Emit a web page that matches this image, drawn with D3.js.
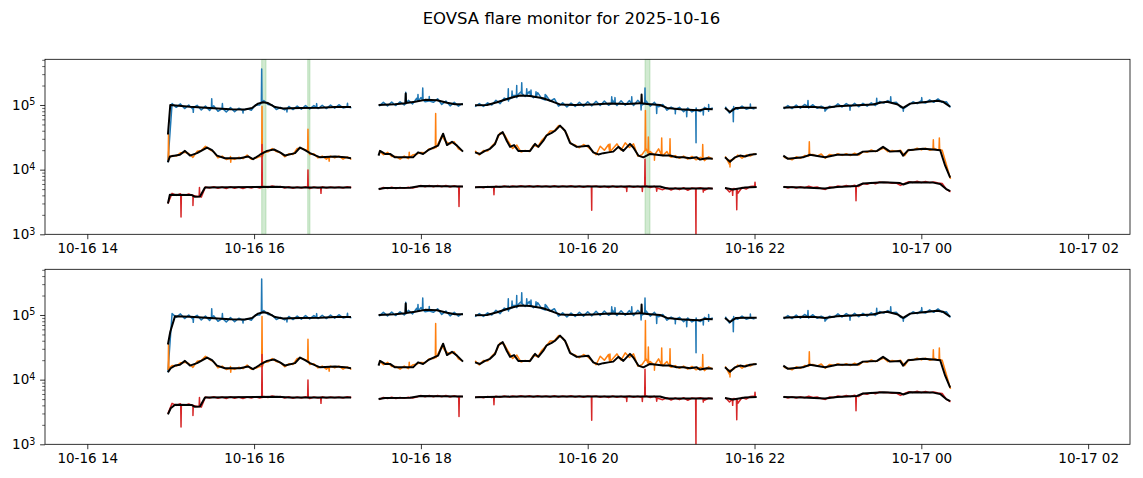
<!DOCTYPE html>
<html><head><meta charset="utf-8">
<script src="https://cdn.jsdelivr.net/npm/d3@7"></script>
<style>
body{margin:0;background:#fff;}
text{font-family:"DejaVu Sans",sans-serif;fill:#000;}
</style>
</head><body>
<svg id="c" width="1143" height="478"></svg>
<script>
// ---------------- data ----------------
const chartTitle = "EOVSA flare monitor for 2025-10-16";
const dayStartUTC = Date.UTC(2025, 9, 16);          // hours below are counted from 2025-10-16 00:00
const xDomainHours = [13.493, 26.502];
const xTickHours = [14, 16, 18, 20, 22, 24, 26];
const yDomain = [1e3, 5.09e5];
const yMajorTicks = [1e3, 1e4, 1e5];
const yMinorTicks = [2e3,3e3,4e3,5e3,6e3,7e3,8e3,9e3,2e4,3e4,4e4,5e4,6e4,7e4,8e4,9e4,2e5,3e5,4e5,5e5];

// start hour of each observing segment; samples every 3 minutes
const segmentStarts = [14.9667, 17.5, 18.65, 21.65, 22.35];
const sampleStepMin = 3;

const blueRaw = [
 [1.3e4,1.05e5,9.2e4,1.04e5,8.8e4,1.0e5,8.6e4,9.9e4,8.4e4,9.6e4,8.2e4,9.7e4,8.0e4,9.3e4,7.8e4,9.1e4,7.9e4,8.9e4,7.6e4,8.8e4,8.3e4,1.0e5,1.0e5,1.17e5,1.02e5,1.0e5,8.5e4,9.2e4,8.4e4,9.5e4,8.5e4,9.6e4,8.6e4,9.8e4,8.7e4,9.8e4,8.8e4,9.9e4,8.8e4,1.0e5,8.9e4,1.01e5,9.0e4,1.0e5,9.1e4],
 [9.6e4,1.1e5,9.7e4,1.11e5,9.8e4,1.12e5,1.0e5,1.18e5,1.04e5,1.27e5,1.3e5,1.12e5,1.32e5,1.1e5,1.25e5,1.02e5,1.15e5,9.7e4,1.1e5,9.6e4,1.06e5],
 [9.4e4,1.05e5,9.5e4,1.08e5,1.0e5,1.18e5,1.05e5,1.28e5,1.15e5,1.42e5,1.3e5,1.6e5,1.35e5,1.62e5,1.3e5,1.55e5,1.25e5,1.42e5,1.15e5,1.25e5,9.6e4,1.08e5,9.3e4,1.07e5,9.5e4,1.1e5,9.6e4,1.12e5,9.7e4,1.14e5,9.8e4,1.15e5,9.9e4,1.18e5,9.8e4,1.16e5,9.9e4,1.17e5,9.8e4,1.18e5,1.0e5,1.15e5,9.6e4,1.1e5,9.4e4,1.02e5,8.3e4,9.3e4,8.0e4,9.2e4,7.9e4,9.0e4,7.8e4,9.0e4,7.9e4,9.2e4,8.0e4,9.0e4],
 [9.4e4,7.5e4,9.5e4,8.6e4,9.6e4,8.6e4,9.5e4,8.7e4],
 [8.7e4,9.8e4,8.8e4,1.0e5,8.9e4,1.02e5,9.0e4,1.01e5,8.9e4,9.6e4,8.2e4,9.6e4,9.2e4,1.04e5,9.3e4,1.05e5,9.4e4,1.06e5,9.4e4,1.06e5,9.6e4,1.08e5,9.8e4,1.13e5,1.07e5,1.17e5,1.08e5,1.1e5,9.2e4,9.0e4,1.0e5,1.12e5,1.05e5,1.17e5,1.07e5,1.2e5,1.1e5,1.24e5,1.1e5,1.12e5,9.2e4]
];
const orangeRaw = [
 [1.4e4,1.65e4,1.62e4,1.82e4,1.85e4,1.78e4,1.55e4,1.92e4,1.98e4,2.3e4,2.05e4,1.88e4,1.52e4,1.62e4,1.44e4,1.6e4,1.44e4,1.55e4,1.48e4,1.68e4,1.45e4,1.5e4,1.6e4,1.88e4,1.88e4,2.12e4,1.9e4,1.82e4,1.58e4,1.76e4,1.72e4,2.12e4,2.15e4,2.02e4,1.72e4,1.76e4,1.52e4,1.62e4,1.45e4,1.62e4,1.52e4,1.62e4,1.45e4,1.58e4,1.44e4],
 [1.95e4,1.7e4,1.85e4,1.6e4,1.6e4,1.45e4,1.62e4,1.48e4,1.68e4,1.75e4,1.85e4,1.82e4,2.1e4,2.12e4,2.42e4,3.3e4,2.7e4,2.5e4,2.7e4,2.1e4,1.95e4],
 [1.95e4,1.68e4,1.98e4,1.95e4,2.3e4,2.7e4,3.7e4,3.5e4,2.7e4,2.12e4,2.4e4,1.88e4,1.98e4,1.9e4,2.4e4,2.25e4,2.85e4,3.3e4,3.95e4,3.95e4,4.8e4,4.4e4,3.55e4,2.5e4,2.4e4,2.18e4,2.45e4,2.25e4,1.98e4,1.7e4,2.3e4,2.0e4,2.45e4,2.1e4,2.5e4,2.0e4,2.6e4,2.2e4,2.5e4,1.62e4,1.7e4,2.1e4,1.9e4,1.65e4,2.1e4,1.65e4,1.9e4,1.55e4,1.65e4,1.5e4,1.62e4,1.45e4,1.6e4,1.42e4,1.55e4,1.38e4,1.58e4,1.45e4],
 [1.6e4,1.2e4,1.45e4,1.68e4,1.5e4,1.68e4,1.62e4,1.78e4],
 [1.55e4,1.5e4,1.42e4,1.58e4,1.5e4,1.65e4,1.62e4,1.72e4,1.62e4,1.75e4,1.5e4,1.72e4,1.65e4,1.76e4,1.66e4,1.76e4,1.65e4,1.8e4,1.68e4,1.9e4,1.85e4,2.02e4,1.9e4,2.02e4,2.15e4,1.9e4,1.98e4,1.92e4,2.0e4,1.65e4,2.05e4,2.0e4,2.15e4,2.02e4,2.15e4,2.0e4,2.15e4,2.0e4,2.0e4,1.2e4,7.2e3]
];
const redRaw = [
 [3.0e3,4.3e3,4.0e3,4.25e3,4.0e3,4.2e3,3.95e3,3.85e3,3.75e3,5.4e3,5.2e3,5.45e3,5.15e3,5.4e3,5.1e3,5.45e3,5.15e3,5.4e3,5.1e3,5.4e3,5.2e3,5.45e3,5.2e3,5.5e3,5.3e3,5.6e3,5.4e3,5.5e3,5.2e3,5.45e3,5.15e3,5.4e3,5.2e3,5.45e3,5.1e3,5.4e3,5.2e3,5.45e3,5.2e3,5.4e3,5.25e3,5.4e3,5.2e3,5.45e3,5.3e3],
 [4.9e3,5.3e3,5.1e3,5.35e3,5.1e3,5.3e3,5.15e3,5.35e3,5.2e3,5.4e3,5.7e3,5.45e3,5.7e3,5.45e3,5.7e3,5.45e3,5.7e3,5.4e3,5.65e3,5.4e3,5.5e3],
 [5.3e3,5.45e3,5.25e3,5.5e3,5.3e3,5.55e3,5.35e3,5.6e3,5.4e3,5.6e3,5.45e3,5.65e3,5.45e3,5.65e3,5.4e3,5.65e3,5.45e3,5.6e3,5.4e3,5.65e3,5.4e3,5.6e3,5.45e3,5.65e3,5.4e3,5.6e3,5.35e3,5.6e3,5.4e3,5.6e3,5.35e3,5.55e3,5.3e3,5.6e3,5.35e3,5.55e3,5.3e3,5.6e3,5.35e3,5.55e3,5.3e3,5.6e3,5.3e3,5.55e3,5.1e3,4.9e3,5.25e3,4.85e3,5.2e3,4.9e3,5.25e3,4.8e3,5.2e3,4.85e3,5.25e3,4.8e3,5.2e3,5.05e3],
 [5.3e3,4.5e3,5.1e3,4.3e3,5.3e3,5.0e3,5.5e3,5.6e3],
 [5.5e3,5.2e3,5.45e3,5.2e3,5.45e3,5.25e3,5.55e3,5.3e3,5.4e3,5.1e3,4.95e3,5.4e3,5.3e3,5.6e3,5.45e3,5.7e3,5.5e3,5.75e3,5.5e3,6.1e3,5.95e3,6.3e3,6.05e3,6.45e3,6.3e3,6.35e3,6.15e3,6.2e3,5.7e3,6.1e3,6.5e3,6.35e3,6.6e3,6.3e3,6.55e3,6.3e3,6.45e3,6.2e3,6.1e3,5.0e3,4.55e3]
];

// short spikes: [hour, level around it, spike value]
const blueSpikes = [[15.271,9.2e4,7.7e4],[15.492,9.0e4,1.25e5],[15.62,8.8e4,1.05e5],[15.867,8.3e4,7.5e4],[16.091,1.08e5,3.6e5],[16.394,8.8e4,7.8e4],[16.75,9.2e4,1.05e5],[17.12,9.3e4,1.06e5],
 [17.818,1.05e5,1.57e5],[17.965,1.15e5,1.45e5],[18.022,1.2e5,1.83e5],[18.1,1.15e5,1.35e5],
 [19.048,1.2e5,1.78e5],[19.093,1.3e5,1.65e5],[19.149,1.4e5,2.0e5],[19.209,1.5e5,2.2e5],[19.269,1.45e5,1.78e5],[19.32,1.4e5,1.7e5],[19.38,1.35e5,1.6e5],[19.49,1.2e5,1.45e5],
 [20.288,1.05e5,1.34e5],[20.327,1.05e5,1.3e5],[20.528,1.05e5,1.34e5],[20.640,1.06e5,8.4e4],[20.687,1.05e5,1.83e5],[20.827,1.0e5,7.4e4],[21.05,8.6e4,7.3e4],[21.187,8.6e4,6.6e4],[21.299,8.4e4,2.6e4],[21.386,8.6e4,7.0e4],[21.45,8.6e4,1.02e5],
 [21.746,8.8e4,5.5e4],[21.95,9.0e4,1.04e5],
 [22.641,9.5e4,1.17e5],[22.845,9.0e4,8.0e4],[23.145,9.8e4,8.3e4],[23.465,1.03e5,1.27e5],[23.633,1.1e5,1.34e5],[23.784,9.0e4,8.0e4],[24.005,1.1e5,1.3e5]];
const orangeSpikes = [[14.974,1.5e4,3.6e4],[15.72,1.5e4,1.3e4],[16.095,1.6e4,9.5e4],[16.646,2.0e4,4.2e4],[16.9,1.55e4,1.35e4],
 [18.177,2.2e4,7.4e4],[17.86,1.55e4,1.85e4],
 [20.267,1.9e4,2.5e4],[20.692,2.0e4,8.2e4],[20.727,1.8e4,3.2e4],[20.887,1.7e4,3.1e4],[20.987,1.6e4,3.0e4],[20.8,1.7e4,1.4e4],[21.379,1.5e4,2.45e4],
 [21.706,1.4e4,1.1e4],
 [22.657,1.7e4,2.7e4],[24.144,2.05e4,2.9e4],[24.216,2.05e4,3.1e4]];
const redSpikes = [[15.124,4.1e3,1.85e3],[15.267,4.0e3,2.8e3],[15.345,3.85e3,5.3e3],[16.095,5.3e3,2.45e4],[16.646,5.3e3,9.9e3],[16.802,5.3e3,4.3e3],
 [18.457,5.5e3,2.7e3],
 [18.876,5.4e3,4.1e3],[20.048,5.5e3,2.35e3],[20.468,5.5e3,4.6e3],[20.655,5.5e3,4.6e3],[20.687,5.5e3,1.45e4],[20.827,5.2e3,4.65e3],[21.298,5.1e3,9e2],[21.386,5.1e3,4.5e3],
 [21.738,5.0e3,4.0e3],[21.787,5.0e3,2.4e3],[22.006,5.5e3,6.4e3],
 [23.217,5.6e3,3.3e3]];

// smoothed (black) curves: [hour, value], null = gap
const blueSmooth = [[14.967,3.5e4],[14.995,1.0e5],[15.231,9.4e4],[15.471,9.0e4],[15.711,8.6e4],[15.891,8.5e4],[15.975,9.0e4],[16.047,1.05e5],[16.107,1.1e5],[16.167,1.07e5],[16.251,9.3e4],[16.347,8.8e4],[16.431,8.9e4],[16.551,9.0e4],[16.791,9.1e4],[16.971,9.3e4],[17.162,9.3e4],null,
 [17.492,1.0e5],[17.69,1.03e5],[17.814,1.06e5],[17.818,1.5e5],[17.822,1.07e5],[17.93,1.12e5],[18.05,1.2e5],[18.193,1.18e5],[18.313,1.08e5],[18.409,1.03e5],[18.505,1.03e5],null,
 [18.649,9.9e4],[18.793,1.0e5],[18.913,1.1e5],[19.069,1.28e5],[19.189,1.4e5],[19.309,1.38e5],[19.465,1.27e5],[19.585,1.12e5],[19.666,1.02e5],[19.847,1.0e5],[20.063,1.02e5],[20.267,1.05e5],[20.471,1.04e5],[20.627,1.06e5],[20.642,1.06e5],[20.646,1.45e5],[20.650,1.06e5],[20.711,1.04e5],[20.867,1.0e5],[20.951,9.0e4],[21.107,8.6e4],[21.263,8.4e4],[21.347,8.3e4],[21.407,8.7e4],[21.499,8.6e4],null,
 [21.646,9.0e4],[21.706,7.8e4],[21.778,9.0e4],[21.886,9.1e4],[22.026,9.1e4],null,
 [22.345,9.1e4],[22.581,9.4e4],[22.725,9.3e4],[22.845,9.0e4],[22.989,9.6e4],[23.229,9.9e4],[23.421,1.02e5],[23.505,1.08e5],[23.589,1.12e5],[23.709,1.03e5],[23.782,9.0e4],[23.866,1.05e5],[24.022,1.1e5],[24.190,1.16e5],[24.262,1.12e5],[24.346,9.4e4]];
const orangeSmooth = [[14.967,1.3e4],[14.99,1.6e4],[15.111,1.7e4],[15.171,1.95e4],[15.231,1.65e4],[15.316,1.8e4],[15.436,2.2e4],[15.496,2.0e4],[15.555,1.65e4],[15.651,1.5e4],[15.831,1.5e4],[15.927,1.6e4],[15.987,1.45e4],[16.071,1.7e4],[16.155,1.95e4],[16.239,2.05e4],[16.311,1.85e4],[16.371,1.65e4],[16.491,1.8e4],[16.551,2.2e4],[16.611,2.0e4],[16.671,1.8e4],[16.791,1.55e4],[16.971,1.6e4],[17.091,1.55e4],[17.162,1.5e4],null,
 [17.492,1.65e4],[17.51,1.95e4],[17.57,1.75e4],[17.63,1.75e4],[17.69,1.55e4],[17.906,1.55e4],[17.966,1.85e4],[18.026,1.75e4],[18.086,2.0e4],[18.17,2.25e4],[18.206,2.35e4],[18.266,3.6e4],[18.313,2.4e4],[18.373,2.7e4],[18.433,2.35e4],[18.505,1.9e4],null,
 [18.649,1.85e4],[18.709,1.75e4],[18.769,1.95e4],[18.829,2.1e4],[18.889,2.5e4],[18.928,3.4e4],[18.981,3.8e4],[19.029,2.8e4],[19.069,2.25e4],[19.117,2.4e4],[19.168,1.95e4],[19.309,1.95e4],[19.369,2.5e4],[19.408,2.25e4],[19.468,2.8e4],[19.508,3.4e4],[19.568,3.7e4],[19.608,4.0e4],[19.668,4.8e4],[19.728,4.0e4],[19.788,2.6e4],[19.868,2.25e4],[19.947,2.3e4],[20.007,2.35e4],[20.067,1.85e4],[20.127,1.72e4],[20.187,1.8e4],[20.247,1.85e4],[20.307,1.9e4],[20.367,2.25e4],[20.427,1.95e4],[20.507,2.5e4],[20.547,2.2e4],[20.607,1.65e4],[20.667,1.55e4],[20.747,1.75e4],[20.827,1.7e4],[20.906,1.65e4],[20.987,1.65e4],[21.067,1.55e4],[21.147,1.55e4],[21.227,1.5e4],[21.307,1.55e4],[21.347,1.43e4],[21.427,1.5e4],[21.499,1.48e4],null,
 [21.646,1.55e4],[21.706,1.33e4],[21.766,1.55e4],[21.826,1.65e4],[21.886,1.6e4],[21.946,1.7e4],[22.026,1.75e4],null,
 [22.345,1.65e4],[22.401,1.47e4],[22.581,1.55e4],[22.665,1.7e4],[22.845,1.55e4],[22.989,1.7e4],[23.229,1.7e4],[23.301,1.9e4],[23.469,1.95e4],[23.541,2.25e4],[23.625,1.9e4],[23.745,1.95e4],[23.782,1.65e4],[23.842,2.0e4],[24.022,2.1e4],[24.142,2.05e4],[24.226,2.0e4],[24.286,1.15e4],[24.346,7.5e3]];
const redSmooth = [[14.967,3.0e3],[14.99,4.1e3],[15.255,4.05e3],[15.291,3.8e3],[15.351,3.85e3],[15.411,5.3e3],[16.275,5.45e3],[16.431,5.3e3],[17.162,5.3e3],null,
 [17.492,5.0e3],[17.57,5.2e3],[17.87,5.25e3],[17.99,5.6e3],[18.505,5.5e3],null,
 [18.649,5.35e3],[19.189,5.5e3],[20.149,5.5e3],[20.687,5.5e3],[20.867,5.5e3],[20.951,5.1e3],[21.499,5.1e3],null,
 [21.646,5.2e3],[21.742,4.95e3],[21.886,5.3e3],[22.026,5.4e3],null,
 [22.345,5.4e3],[22.581,5.3e3],[22.845,5.1e3],[22.989,5.4e3],[23.229,5.6e3],[23.301,6.1e3],[23.541,6.4e3],[23.745,6.2e3],[23.782,5.9e3],[23.866,6.4e3],[24.142,6.3e3],[24.226,6.0e3],[24.298,5.0e3],[24.346,4.65e3]];

// the lower panel's smoothed curves rise more gently at the first segment start
const blueSmoothLowerStart = [[14.967,3.5e4],[14.995,5.5e4],[15.052,9.6e4]];
const orangeSmoothLowerStart = [[14.967,1.3e4],[15.0,1.5e4],[15.052,1.65e4]];
const redSmoothLowerStart = [[14.967,2.9e3],[15.0,3.6e3],[15.052,4.1e3]];

// flare intervals marked on the upper panel: [start hour, end hour]
const flareSpans = [[16.091,16.143],[16.643,16.670],[20.687,20.747]];

const colors = {blue:"#1f77b4", orange:"#ff7f0e", red:"#d62728"};

// ---------------- drawing ----------------
const svg = d3.select("#c");
const W = 1143;
const plotLeft = 45, plotRight = 1130, plotH = 175;
const panelTops = [59.3, 269.3];
const toDate = h => new Date(dayStartUTC + h * 3600e3);

const x = d3.scaleUtc().domain(xDomainHours.map(toDate)).range([plotLeft, plotRight]);

function rawPoints(segs, spikes) {
  const out = [];
  segs.forEach((vals, i) => {
    const t0 = segmentStarts[i];
    const pts = vals.map((v, k) => [t0 + k * sampleStepMin / 60, v]);
    const t1 = pts[pts.length - 1][0];
    spikes.filter(s => s[0] >= t0 - 0.01 && s[0] <= t1 + 0.01).forEach(s => {
      pts.push([s[0] - 0.004, s[1]], [s[0], s[2]], [s[0] + 0.004, s[1]]);
    });
    pts.sort((a, b) => a[0] - b[0]);
    if (out.length) out.push(null);
    out.push(...pts);
  });
  return out;
}
function lowerSmooth(top, start) {
  const tEnd = start[start.length - 1][0];
  return start.concat(top.filter(p => p === null || p[0] > tEnd));
}

const rawSeries = [
  {pts: rawPoints(blueRaw, blueSpikes), color: colors.blue},
  {pts: rawPoints(orangeRaw, orangeSpikes), color: colors.orange},
  {pts: rawPoints(redRaw, redSpikes), color: colors.red}
];

svg.append("text").attr("x", W / 2).attr("y", 24).attr("text-anchor", "middle")
  .style("font-size", "16.5px").text(chartTitle);

panelTops.forEach((top, pi) => {
  const bottom = top + plotH;
  const y = d3.scaleLog().domain(yDomain).range([bottom, top]);
  const g = svg.append("g");
  const clipId = "clip" + pi;
  g.append("clipPath").attr("id", clipId).append("rect")
    .attr("x", plotLeft).attr("y", top).attr("width", plotRight - plotLeft).attr("height", plotH);
  const plot = g.append("g").attr("clip-path", `url(#${clipId})`);

  if (pi === 0) {
    plot.selectAll("rect.span").data(flareSpans).join("rect").attr("class", "span")
      .attr("x", d => x(toDate(d[0]))).attr("width", d => x(toDate(d[1])) - x(toDate(d[0])))
      .attr("y", top).attr("height", plotH)
      .attr("fill", "#2ca02c").attr("fill-opacity", 0.22)
      .attr("stroke", "#2ca02c").attr("stroke-opacity", 0.22).attr("stroke-width", 1);
  }

  const line = d3.line().defined(d => d !== null)
    .x(d => x(toDate(d[0]))).y(d => y(d[1]));

  rawSeries.forEach(s => {
    plot.append("path").attr("d", line(s.pts)).attr("fill", "none")
      .attr("stroke", s.color).attr("stroke-width", 1.5).attr("stroke-linejoin", "round");
  });
  const smooths = pi === 0 ? [blueSmooth, orangeSmooth, redSmooth] :
    [lowerSmooth(blueSmooth, blueSmoothLowerStart), lowerSmooth(orangeSmooth, orangeSmoothLowerStart), lowerSmooth(redSmooth, redSmoothLowerStart)];
  smooths.forEach(sm => {
    plot.append("path").attr("d", line(sm)).attr("fill", "none")
      .attr("stroke", "#000").attr("stroke-width", 2).attr("stroke-linejoin", "round");
  });

  // x axis
  const xa = g.append("g").attr("transform", `translate(0,${bottom})`)
    .call(d3.axisBottom(x).tickValues(xTickHours.map(toDate)).tickFormat(d3.utcFormat("%m-%d %H"))
      .tickSize(4.9).tickPadding(4.4));
  xa.select(".domain").remove();
  xa.selectAll("line").attr("stroke-width", 0.8);
  xa.selectAll("text").style("font-size", "13.5px");

  // y axis (major)
  const ya = g.append("g").attr("transform", `translate(${plotLeft},0)`)
    .call(d3.axisLeft(y).tickValues(yMajorTicks).tickFormat(() => "").tickSize(4.9).tickPadding(4.4));
  ya.select(".domain").remove();
  ya.selectAll("line").attr("stroke-width", 0.8);
  ya.selectAll(".tick").each(function(d) {
    const t = d3.select(this).select("text");
    t.text(null).attr("x", -9.6).attr("dy", "0.32em").attr("text-anchor", "end").style("font-size", "13.5px");
    t.append("tspan").text("10");
    t.append("tspan").attr("dy", "-0.45em").style("font-size", "9.6px").text(String(Math.round(Math.log10(d))));
  });
  // y axis (minor)
  const ym = g.append("g").attr("transform", `translate(${plotLeft},0)`)
    .call(d3.axisLeft(y).tickValues(yMinorTicks.filter(v => v <= yDomain[1])).tickFormat(() => "").tickSize(2.8));
  ym.select(".domain").remove();
  ym.selectAll("line").attr("stroke-width", 0.6);

  // frame
  g.append("rect").attr("x", plotLeft).attr("y", top).attr("width", plotRight - plotLeft).attr("height", plotH)
    .attr("fill", "none").attr("stroke", "#000").attr("stroke-width", 0.8);
});
</script>
</body></html>
